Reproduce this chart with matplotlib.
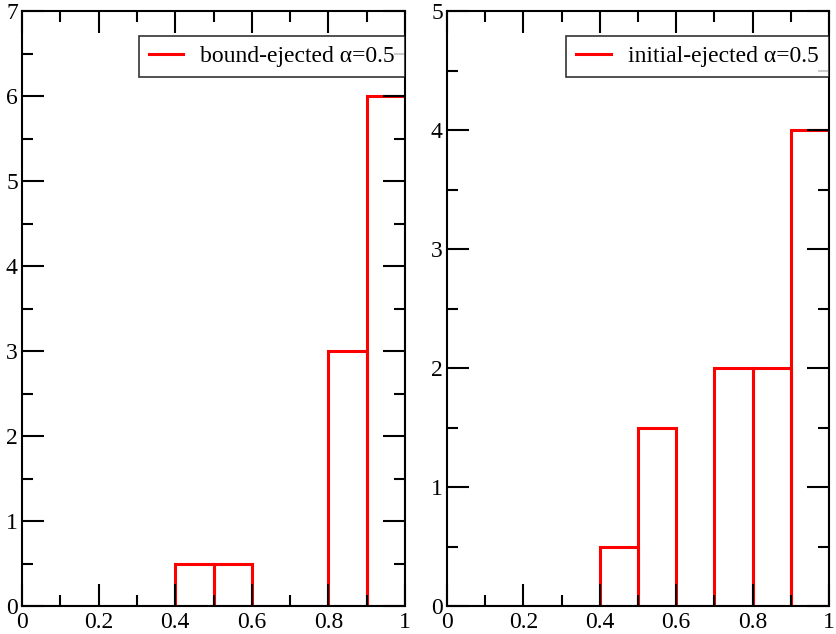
import matplotlib.pyplot as plt
from matplotlib.lines import Line2D
from matplotlib.ticker import MultipleLocator

bin_left = [0.0, 0.1, 0.2, 0.3, 0.4, 0.5, 0.6, 0.7, 0.8, 0.9]
bound_counts = [0, 0, 0, 0, 0.5, 0.5, 0, 0, 3, 6]
initial_counts = [0, 0, 0, 0, 0.5, 1.5, 0, 2, 2, 4]
labels = ["bound-ejected \u03b1=0.5", "initial-ejected \u03b1=0.5"]
ymax = [7, 5]

plt.rcParams['font.family'] = ['Liberation Serif', 'DejaVu Serif']

fig = plt.figure(figsize=(8.36, 6.34), dpi=100)
W, H = 836, 634
# panel frames in pixels: left, top, right, bottom
boxes = [(22, 11, 405, 606), (447, 11, 829, 606)]

for (x0, y0, x1, y1), counts, lab, top in zip(boxes, [bound_counts, initial_counts], labels, ymax):
    ax = fig.add_axes([x0 / W, 1 - y1 / H, (x1 - x0) / W, (y1 - y0) / H])
    ax.bar(bin_left, counts, width=0.1, align='edge', fill=False,
           edgecolor='red', linewidth=2.2)
    ax.set_xlim(0, 1)
    ax.set_ylim(0, top)
    ax.xaxis.set_major_locator(MultipleLocator(0.2))
    ax.xaxis.set_minor_locator(MultipleLocator(0.1))
    ax.yaxis.set_major_locator(MultipleLocator(1))
    ax.yaxis.set_minor_locator(MultipleLocator(0.5))
    ax.xaxis.set_major_formatter(plt.FuncFormatter(lambda v, p: "%g" % round(v, 2)))
    ax.tick_params(which='both', direction='in', top=True, right=True,
                   width=1.5, labelsize=17)
    ax.tick_params(which='major', length=16)
    ax.tick_params(which='minor', length=8)
    for s in ax.spines.values():
        s.set_linewidth(1.5)
    ax.tick_params(axis='x', pad=4)
    ax.tick_params(axis='y', pad=3)
    handle = Line2D([], [], color='red', linewidth=2.2)
    leg = ax.legend(handles=[handle], labels=[lab], loc='upper right',
                    bbox_to_anchor=(1.0, 0.958), fontsize=17,
                    frameon=True, fancybox=False, handlelength=1.45,
                    borderpad=0.42, borderaxespad=0, handletextpad=0.75)
    leg.get_frame().set_edgecolor('black')
    leg.get_frame().set_linewidth(1.2)

fig.savefig("out.png", dpi=100)
